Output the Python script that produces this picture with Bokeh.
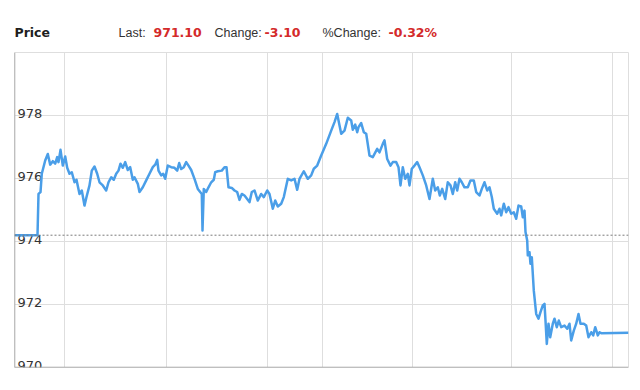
from bokeh.plotting import figure
from bokeh.models import Span, FixedTicker, Range1d, Grid
from bokeh.layouts import column
from bokeh.core.properties import value
from bokeh.embed import file_html
from bokeh.resources import INLINE

# ---- data -------------------------------------------------------------
t_a = [0, 23, 24, 26, 27.3, 30.7, 33.3, 35.7, 38.3, 40.7, 42.7, 44, 46, 48.3, 50.7,
       52.7, 55, 57.3, 60, 62, 65, 67.3, 70, 72, 75, 77.3, 80, 82.7, 85, 88.3, 91.7,
       94, 96.7, 99.3, 101.7, 104, 106, 108.3, 110.7, 113.3, 115.7, 118.3]
p_a = [974.20, 974.20, 975.51, 975.57, 976.15, 976.57, 976.78, 976.44, 976.55, 976.47,
       976.68, 976.52, 976.91, 976.41, 976.70, 976.34, 976.15, 976.20, 975.88, 975.96,
       975.51, 975.62, 975.14, 975.41, 975.78, 976.25, 976.38, 976.15, 975.88, 975.78,
       975.62, 975.88, 976.04, 975.96, 976.15, 976.25, 976.47, 976.34, 976.52, 976.27,
       976.36, 975.96]

t_b = [120, 123.3, 125, 128.3, 131.7, 135, 138.3, 140.7, 142.7, 144, 146.7, 148.7, 150.7,
       153.3, 156.7, 160, 162.7, 164.7, 166.7, 169.3, 171.7, 174, 176.7, 180, 183.3, 185.7,
       187.3, 188, 189.3, 191.7, 194, 196.7, 199.3, 200.7, 203.3, 207.3, 210, 212, 214,
       217.3, 220, 222.7, 225, 227.3, 230, 232.7, 235, 237.3]
p_b = [976.04, 975.83, 975.57, 975.72, 975.94, 976.15, 976.36, 976.44, 976.59, 976.25,
       976.10, 976.15, 975.99, 976.41, 976.36, 976.34, 976.25, 976.49, 976.30, 976.36,
       976.52, 976.41, 976.27, 975.99, 975.67, 975.57, 975.51, 974.35, 975.67, 975.57,
       975.72, 975.88, 975.96, 976.20, 976.23, 976.25, 976.36, 976.36, 975.72, 975.70,
       975.62, 975.57, 975.32, 975.51, 975.46, 975.35, 975.25, 975.57]

t_c = [240, 243.3, 246.7, 249.3, 252.7, 255, 258.3, 260.7, 263.3, 266.7, 269.3, 273.3,
       276.7, 280, 282.7, 285, 289.3, 293.3, 296.7, 299.3, 302.7, 306.7, 311.7, 316.7, 320,
       322.7, 326.7, 330, 333.3, 336.7, 338.3, 340.7, 342.7, 344, 346.7, 349.3, 351.7, 355,
       358.3]
p_c = [975.62, 975.30, 975.51, 975.41, 975.62, 975.51, 975.04, 975.30, 975.11, 975.20,
       975.41, 975.99, 975.94, 975.99, 975.64, 975.99, 976.23, 975.99, 976.10, 976.31,
       976.41, 976.73, 977.10, 977.52, 977.79, 978.05, 977.42, 977.52, 977.93, 977.84,
       977.55, 977.71, 977.47, 977.63, 977.76, 977.47, 977.42, 976.73, 976.68]

t_d = [362.7, 365, 368.3, 370, 372.7, 376, 378.3, 381.7, 384, 386, 388.3, 390.7, 393.3,
       395, 397.3, 400, 402.7, 405, 408.3, 411.7, 415, 418.3, 420.7, 423.3, 425.3, 427.7,
       430.7, 433.3, 436, 438.3, 440.7, 442.7, 445, 447.3, 450, 453.3, 456, 459.3, 461.7,
       465, 467.3, 470, 472.7, 475, 477.3, 479.3]
p_d = [976.94, 976.83, 977.10, 977.21, 976.62, 976.41, 976.52, 976.52, 976.36, 975.78,
       976.36, 975.99, 976.15, 975.78, 976.31, 976.41, 976.52, 976.36, 976.10, 975.78,
       975.35, 975.99, 975.62, 975.72, 975.46, 975.67, 975.35, 975.88, 975.78, 975.51,
       975.88, 975.62, 975.99, 975.88, 975.72, 975.72, 975.94, 975.94, 975.57, 975.46,
       975.67, 975.88, 975.62, 975.72, 975.41, 975.04]

t_e = [482.7, 485, 486.7, 489.3, 491.7, 494, 496.7, 499.3, 501.7, 504, 506.7, 508.3, 510,
       511, 512.7, 513.3, 515, 516, 517.3, 519.3, 521.7, 524, 526, 528.3, 530, 531, 532.3,
       534, 535.7, 538.3, 540, 542.3, 544.3, 546.7, 550, 552.7, 555, 556.7, 559.3, 561.7,
       564, 566, 569.3, 571.7, 574, 576.7, 578.7, 580.7, 583.3, 585, 586.7, 614]
p_e = [974.88, 975.04, 974.83, 975.20, 974.93, 975.09, 974.88, 974.93, 974.72, 975.14,
       975.11, 974.77, 974.98, 974.30, 974.03, 973.56, 973.66, 973.29, 973.50, 972.44,
       971.70, 971.55, 971.76, 971.97, 972.02, 971.49, 970.75, 971.39, 970.96, 971.39,
       971.55, 971.28, 971.49, 971.28, 971.33, 971.23, 971.39, 970.86, 971.17, 971.39,
       971.70, 971.39, 971.39, 971.33, 970.96, 971.12, 971.02, 971.28, 971.02, 971.12,
       971.09, 971.10]

t = t_a + t_b + t_c + t_d + t_e
price = p_a + p_b + p_c + p_d + p_e

prev_close = 974.20
last = 971.10
change = -3.10
pct_change = -0.32

y_ticks = [970, 972, 974, 976, 978]
y_tick_labels = ["970", "972", "974", "976", "978"]
x_ticks = [50.3, 151.7, 252.7, 307.7, 397.7, 497, 597.7]

header_texts = ["Price", "Last:", f"{last:.2f}", "Change:", f"{change:.2f}",
                "%Change:", f"{pct_change:.2f}%"]
header_x = [14, 118, 153, 214, 264, 322, 388]
header_bold = [True, False, True, False, True, False, True]
header_colors = ["#1e1e1e", "#333333", "#d42a2a", "#333333", "#d42a2a", "#333333", "#d42a2a"]

# ---- header strip (its frame is aligned with the chart frame: px 14..628) ----
h = figure(width=640, height=52, x_range=Range1d(14, 628), y_range=Range1d(0, 52),
           x_axis_location=None, y_axis_location=None, toolbar_location=None,
           output_backend="svg", min_border_left=14, min_border_right=12,
           min_border_top=0, min_border_bottom=0, title=None)
h.outline_line_color = None
h.grid.visible = False
h.border_fill_color = "white"
for xx, txt, b, c in zip(header_x, header_texts, header_bold, header_colors):
    if b:
        h.text(x=[xx], y=[20], text=[txt], text_color=c, text_font=value("DejaVu Sans"),
               text_font_size="12.5px", text_font_style="bold",
               text_baseline="middle", text_align="left")
    else:
        h.text(x=[xx], y=[20], text=[txt], text_color=c, text_font=value("Liberation Sans"),
               text_font_size="12.5px", text_baseline="middle", text_align="left")

# ---- main chart ---------------------------------------------------------
p = figure(width=640, height=338, x_range=Range1d(0, 614), y_range=Range1d(970, 980),
           x_axis_location=None, y_axis_location=None, toolbar_location=None,
           output_backend="svg", min_border_left=14, min_border_right=12,
           min_border_top=0, min_border_bottom=23, title=None)
p.background_fill_color = "white"
p.border_fill_color = "white"
p.outline_line_color = "#dedede"
p.outline_line_width = 1

p.center = []
p.add_layout(Grid(dimension=0, ticker=FixedTicker(ticks=x_ticks),
                  grid_line_color="#dedede", grid_line_width=1))
p.add_layout(Grid(dimension=1, ticker=FixedTicker(ticks=y_ticks),
                  grid_line_color="#dedede", grid_line_width=1))

p.add_layout(Span(location=0, dimension="height", line_color="#a0a0a0", line_width=1.5))
p.add_layout(Span(location=970, dimension="width", line_color="#a0a0a0", line_width=1.5))
p.add_layout(Span(location=prev_close, dimension="width", line_color="#7a7a7a",
                  line_width=1, line_dash="2 2"))

p.text(x=[3] * len(y_ticks), y=y_ticks, text=y_tick_labels,
       text_font=value("DejaVu Sans"), text_font_size="13px", text_color="#333333",
       text_baseline="alphabetic", text_align="left", y_offset=-2)

p.line(t, price, line_color="#4a9ee8", line_width=2.5, line_join="round")

layout = column(h, p, spacing=0)
open("out.html", "w").write(file_html(layout, INLINE))
